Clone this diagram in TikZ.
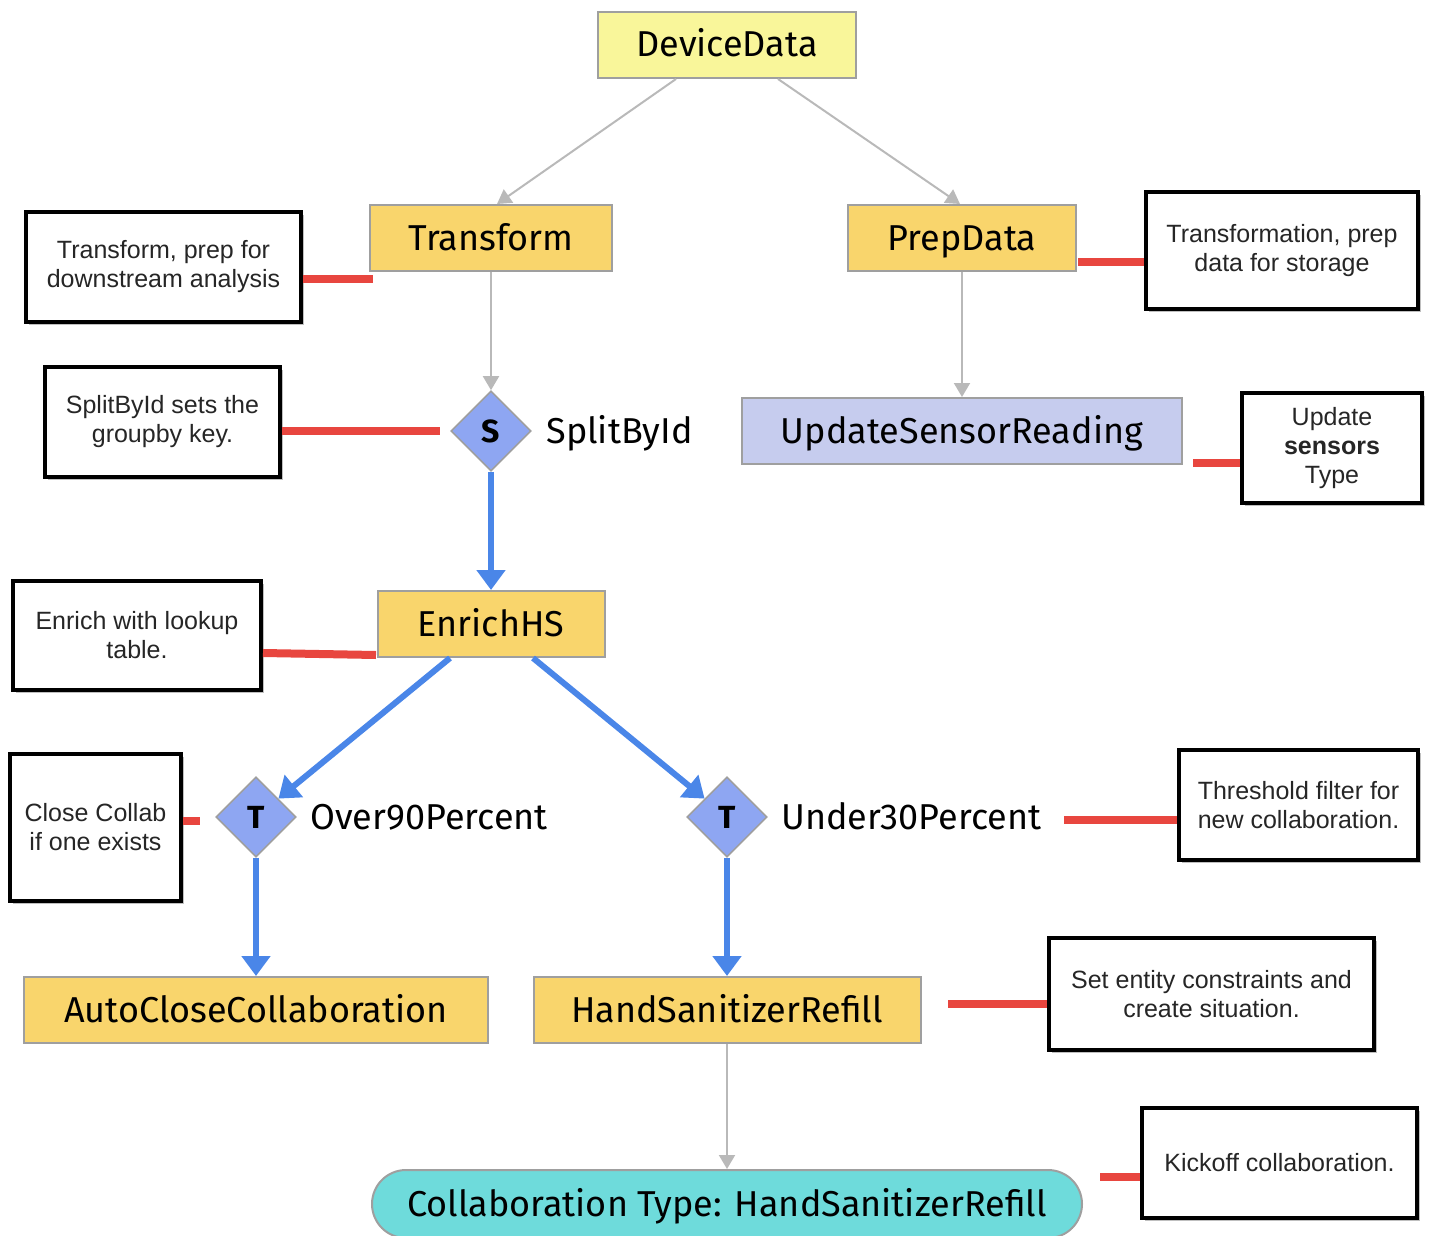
\documentclass[tikz,border=0pt]{standalone}
\usepackage{fontspec}
\setmainfont{Liberation Sans}
\newfontfamily\flowfont{Fira Sans}
\usetikzlibrary{arrows.meta,shapes.geometric,shadows}
\definecolor{paleyellow}{HTML}{F9F69A}
\definecolor{opgold}{HTML}{F9D56C}
\definecolor{sinklavender}{HTML}{C6CCEE}
\definecolor{splitblue}{HTML}{8EA6F2}
\definecolor{collabteal}{HTML}{6EDBDB}
\definecolor{flowblue}{HTML}{4A86E8}
\definecolor{linkred}{HTML}{E8463F}
\tikzset{
  opbox/.style={draw=gray!75, line width=1pt, fill=opgold, minimum height=33pt, inner sep=0pt,
    text height=14pt, text depth=2pt, font=\flowfont\fontsize{18}{20}\selectfont},
  splitter/.style={diamond, draw=gray!75, line width=0.8pt, fill=splitblue, minimum width=40pt,
    minimum height=40pt, inner sep=0pt, font=\flowfont\bfseries\fontsize{16}{16}\selectfont},
  oplabel/.style={anchor=west, inner sep=0pt, text height=14pt, text depth=2pt,
    font=\flowfont\fontsize{18}{20}\selectfont},
  memo/.style={draw=black, line width=2pt, fill=white, text=black!85, align=center, inner sep=0pt,
    font=\fontsize{12.5}{14.5}\selectfont, drop shadow={opacity=0.5, shadow xshift=1.5pt, shadow yshift=-1.5pt}},
  memolink/.style={draw=linkred, line width=4pt},
  plain/.style={draw=gray!55, line width=1pt, -{Triangle[width=8pt,length=7pt]}},
  flow/.style={draw=flowblue, line width=3pt, -{Triangle[width=14pt,length=10pt]}},
}
\begin{document}
\begin{tikzpicture}[x=0.5pt, y=-0.5pt]
    \useasboundingbox (0,0) rectangle (1430,1236);

    \node[opbox, fill=paleyellow, minimum width=129pt] (dev) at (727,45) {DeviceData};
    \node[opbox, minimum width=121pt] (transform) at (491,238) {Transform};
    \node[opbox, minimum width=114pt] (prep) at (962,238) {PrepData};
    \node[splitter] (split) at (491,431) {S};
    \node[oplabel] (splitlbl) at (546,431) {SplitById};
    \node[opbox, fill=sinklavender, minimum width=220pt] (update) at (962,431) {UpdateSensorReading};
    \node[opbox, minimum width=113.5pt] (enrich) at (491,624) {EnrichHS};
    \node[splitter] (over) at (256,817) {T};
    \node[oplabel] (overlbl) at (310,817) {Over90Percent};
    \node[splitter] (under) at (727,817) {T};
    \node[oplabel] (underlbl) at (781,817) {Under30Percent};
    \node[opbox, minimum width=232pt] (autoclose) at (256,1010) {AutoCloseCollaboration};
    \node[opbox, minimum width=193.5pt] (refill) at (727,1010) {HandSanitizerRefill};
    \node[opbox, fill=collabteal, rounded corners=17pt, minimum width=355pt, minimum height=34pt] (collab) at (727,1204) {Collaboration Type: HandSanitizerRefill};

    \draw[plain] ([xshift=-25.5pt]dev.south) -- ([xshift=3pt]transform.north);
    \draw[plain] ([xshift=25.5pt]dev.south) -- ([xshift=-1pt]prep.north);
    \draw[plain] (transform) -- (split);
    \draw[plain] (prep) -- (update);
    \draw[plain] (refill) -- (collab);
    \draw[flow] (split) -- (enrich);
    \draw[flow] ([xshift=-20.5pt]enrich.south) -- (over);
    \draw[flow] ([xshift=21pt]enrich.south) -- (under);
    \draw[flow] (over) -- (autoclose);
    \draw[flow] (under) -- (refill);

    \node[memo, minimum width=137.5pt, minimum height=55pt] (m1) at (163.5,267) {Transform, prep for\\downstream analysis};
    \node[memo, minimum width=136pt, minimum height=58.5pt] (m2) at (1282,250.5) {Transformation, prep\\data for storage};
    \node[memo, minimum width=117.5pt, minimum height=55pt] (m3) at (162.5,422) {SplitById sets the\\groupby key.};
    \node[memo, minimum width=90pt, minimum height=55pt] (m4) at (1332,448) {Update\\\textbf{sensors}\\Type};
    \node[memo, minimum width=124pt, minimum height=54.5pt] (m5) at (137,635.5) {Enrich with lookup\\table.};
    \node[memo, minimum width=85.5pt, minimum height=73.5pt] (m6) at (95.5,827.5) {Close Collab\\if one exists};
    \node[memo, minimum width=119.5pt, minimum height=55pt] (m7) at (1298.5,805) {Threshold filter for\\new collaboration.};
    \node[memo, minimum width=162.5pt, minimum height=56pt] (m8) at (1211.5,994) {Set entity constraints and\\create situation.};
    \node[memo, minimum width=137.5pt, minimum height=55pt] (m9) at (1279.5,1163) {Kickoff collaboration.};

    \coordinate (e1) at (373,279);
    \coordinate (e2) at (1078,262);
    \coordinate (e3) at (440,431);
    \coordinate (e4) at (1193,463);
    \coordinate (e5) at (376,655);
    \coordinate (e6) at (200,821);
    \coordinate (e7) at (1064,820);
    \coordinate (e8) at (948,1004);
    \coordinate (e9) at (1100,1177);
    \draw[memolink] (m1.east |- e1) -- (e1);
    \draw[memolink] (e2) -- (m2.west |- e2);
    \draw[memolink] (m3.east |- e3) -- (e3);
    \draw[memolink] (e4) -- (m4.west |- e4);
    \draw[memolink] (m5.east |- 0,653) -- (e5);
    \draw[memolink] (m6.east |- e6) -- (e6);
    \draw[memolink] (e7) -- (m7.west |- e7);
    \draw[memolink] (e8) -- (m8.west |- e8);
    \draw[memolink] (e9) -- (m9.west |- e9);
\end{tikzpicture}
\end{document}
